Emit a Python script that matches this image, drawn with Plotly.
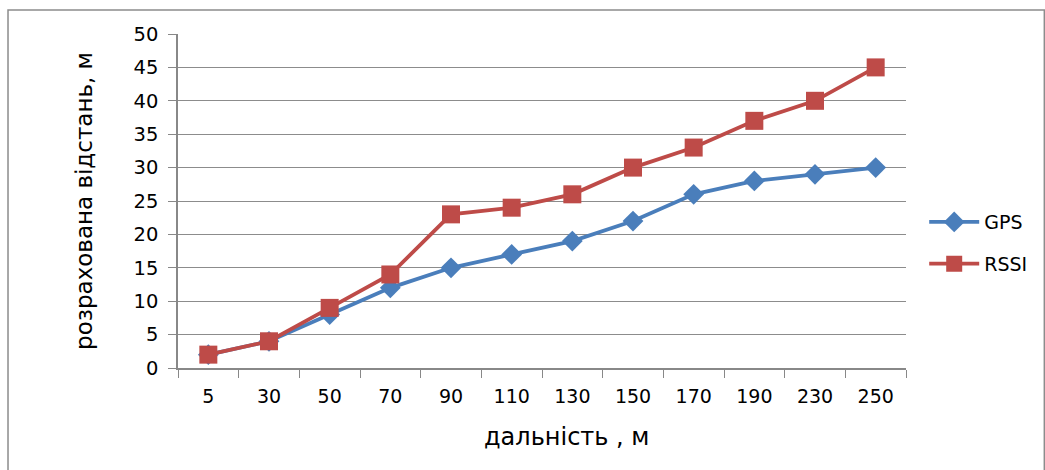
import plotly.graph_objects as go

categories = ["5", "30", "50", "70", "90", "110", "130", "150", "170", "190", "230", "250"]
gps = [2, 4, 8, 12, 15, 17, 19, 22, 26, 28, 29, 30]
rssi = [2, 4, 9, 14, 23, 24, 26, 30, 33, 37, 40, 45]
y_ticks = [0, 5, 10, 15, 20, 25, 30, 35, 40, 45, 50]

FONT = "DejaVu Sans"

fig = go.Figure()
fig.add_trace(go.Scatter(
    x=categories, y=gps, name="GPS", mode="lines+markers", legendgroup="g",
    line=dict(color="#4A7EBB", width=3.8),
    marker=dict(symbol="diamond", size=16, color="#4A7EBB"),
))
fig.add_trace(go.Scatter(
    x=categories, y=rssi, name="RSSI", mode="lines+markers", legendgroup="r",
    line=dict(color="#BE4B48", width=3.8),
    marker=dict(symbol="square", size=18, color="#BE4B48"),
))

fig.update_layout(
    width=1045, height=470,
    margin=dict(l=178, r=139, t=34, b=102),
    paper_bgcolor="white", plot_bgcolor="white",
    font=dict(family=FONT, color="#000000", size=16),
    legend=dict(x=1.025, y=0.374, xanchor="left", yanchor="middle",
                font=dict(family=FONT, size=19), traceorder="grouped", tracegroupgap=14,
                itemwidth=50, bgcolor="rgba(0,0,0,0)"),
    xaxis=dict(
        type="category", range=[-0.5, 11.5], tickson="boundaries", ticks="outside", ticklen=8,
        tickcolor="#888888", showline=True, linecolor="#888888", linewidth=1.5,
        showgrid=False, tickfont=dict(size=19, family=FONT), ticklabelstandoff=10,
    ),
    yaxis=dict(
        range=[0, 50], tickvals=y_ticks, ticks="outside", ticklen=8,
        tickcolor="#888888", showline=True, linecolor="#888888", linewidth=1.5,
        showgrid=True, gridcolor="#8c8c8c", gridwidth=1, zeroline=False,
        tickfont=dict(size=19.5, family=FONT), ticklabelstandoff=6,
        title=dict(text="розрахована відстань, м", font=dict(size=23, family=FONT), standoff=34),
    ),
)

fig.add_annotation(text="дальність , м", xref="paper", yref="paper",
                   x=0.533, y=-0.207, xanchor="center", yanchor="middle",
                   showarrow=False, font=dict(size=24, family=FONT))

fig.add_shape(type="rect", xref="paper", yref="paper",
              x0=-0.2335, x1=1.19, y0=-0.36, y1=1.072,
              line=dict(color="#8c8c8c", width=1.5), fillcolor="rgba(0,0,0,0)", layer="below")

fig.write_html("out.html")
